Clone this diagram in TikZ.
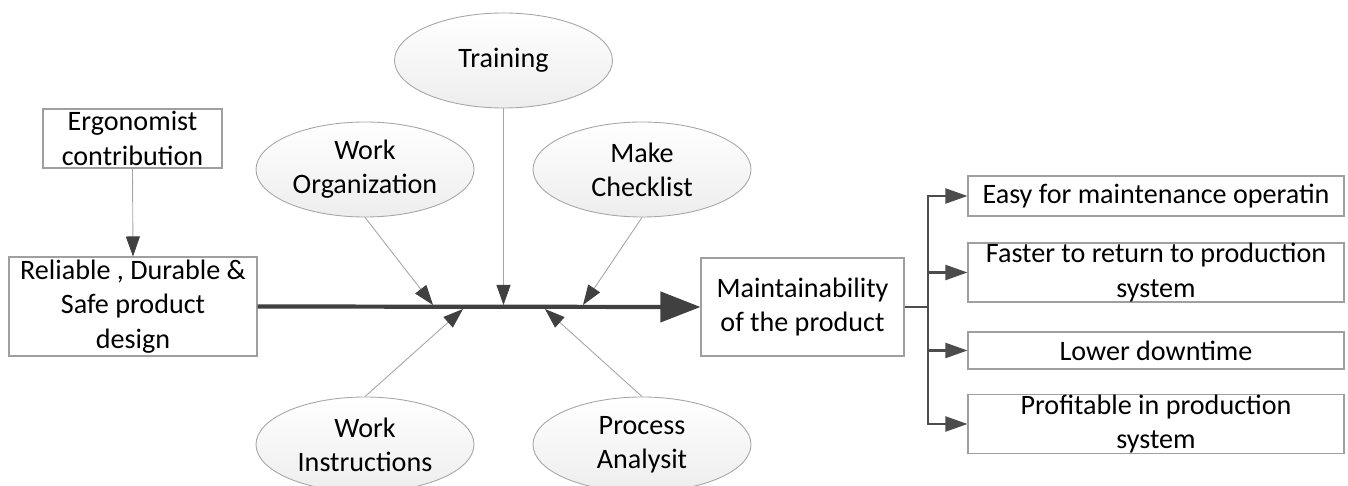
\documentclass[tikz,border=0pt]{standalone}
\usepackage{fontspec}
\setmainfont{Carlito}
\usetikzlibrary{shapes.geometric,arrows.meta}

\begin{document}
\begin{tikzpicture}[x=0.2mm,y=-0.2mm,
        font=\fontsize{16}{19.5}\selectfont,
        box/.style={draw=gray!75,line width=0.6pt,inner sep=0pt,align=center},
        bubble/.style={ellipse,draw=gray!70,line width=0.5pt,top color=white,bottom color=gray!14,
            inner sep=0pt,align=center,minimum width=43.6mm,minimum height=19mm},
        link/.style={draw=gray!70,line width=0.5pt,-{Triangle[length=4mm,width=2.8mm,color=black!75]}},
        spine/.style={draw=black!75,line width=2.4pt,-{Triangle[length=8mm,width=6mm]}},
        branch/.style={draw=black!70,line width=1.2pt}]
            \useasboundingbox (0,0) rectangle (1348,486);
            % cause side
            \node [box,minimum width=35.8mm,minimum height=11.8mm] (ergo) at (132.5,138.5) {Ergonomist\\contribution};
            \node [box,minimum width=49.6mm,minimum height=19.8mm] (design) at (133,306.5) {Reliable , Durable \&\\Safe product\\design};
            \node [box,minimum width=40.6mm,minimum height=19.6mm] (maint) at (802.5,307) {Maintainability\\of the product};
            \node [bubble] (train) at (503.5,60.5) {Training};
            \node [bubble] (workorg) at (365,169.5) {Work\\Organization};
            \node [bubble] (check) at (642,169.5) {Make\\Checklist};
            \node [bubble] (workinst) at (365,444.5) {Work\\Instructions};
            \node [bubble] (process) at (642,444.5) {Process\\Analysit};
            % effect side
            \node [box,minimum width=75.2mm,minimum height=8mm] (easy) at (1156,196) {Easy for maintenance operatin};
            \node [box,minimum width=75.2mm,minimum height=11.8mm] (faster) at (1156,272.5) {Faster to return to production\\system};
            \node [box,minimum width=75.2mm,minimum height=7.4mm] (lower) at (1156,350.5) {Lower downtime};
            \node [box,minimum width=75.2mm,minimum height=10.4mm] (profit) at (1156,424) {Profitable in production\\system};
            % spine and bones
            \coordinate (t1) at (433,305);
            \coordinate (t2) at (503.5,305);
            \coordinate (t3) at (583,305);
            \coordinate (b1) at (463,309);
            \coordinate (b2) at (545,309);
            \coordinate (bus) at (928,307);
            \draw [spine] (design.east) -- (maint.west);
            \draw [link] (ergo.south) -- (design.north);
            \draw [link] (workorg.south) -- (t1);
            \draw [link] (train.south) -- (t2);
            \draw [link] (check.south) -- (t3);
            \draw [link] (workinst.north) -- (b1);
            \draw [link] (process.north) -- (b2);
            \draw [branch] (maint.east) -- (bus);
            \foreach \n in {easy,faster,lower,profit}
                \draw [branch,-{Triangle[length=4.4mm,width=3mm]}] (bus) |- (\n.west);
        \end{tikzpicture}
\end{document}
